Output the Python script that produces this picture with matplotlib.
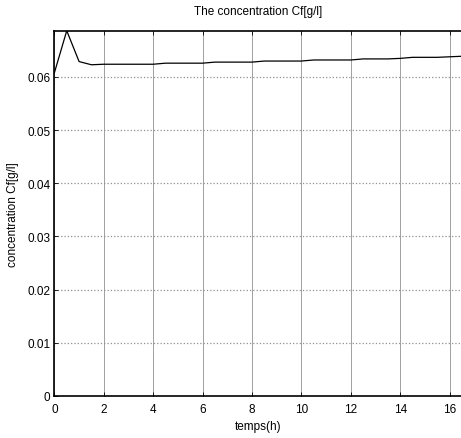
import matplotlib
matplotlib.use('Agg')
import matplotlib.pyplot as plt

plt.rcParams['font.family'] = ['Liberation Sans', 'DejaVu Sans']
plt.rcParams['font.size'] = 8.5

# temps (h) et concentration Cf (g/l)
temps = [0, 0.5, 1, 1.5, 2, 2.5, 3, 3.5, 4, 4.5, 5, 5.5, 6, 6.5, 7, 7.5, 8,
         8.5, 9, 9.5, 10, 10.5, 11, 11.5, 12, 12.5, 13, 13.5, 14, 14.5, 15,
         15.5, 16, 16.5]
cf = [0.0608, 0.0687, 0.0629, 0.0623, 0.0624, 0.0624, 0.0624, 0.0624, 0.0624,
      0.0626, 0.0626, 0.0626, 0.0626, 0.0628, 0.0628, 0.0628, 0.0628, 0.0630,
      0.0630, 0.0630, 0.0630, 0.0632, 0.0632, 0.0632, 0.0632, 0.0634, 0.0634,
      0.0634, 0.0635, 0.0637, 0.0637, 0.0637, 0.0638, 0.0639]

xticks = [0, 2, 4, 6, 8, 10, 12, 14, 16]
yticks = [0, 0.01, 0.02, 0.03, 0.04, 0.05, 0.06]
ytick_labels = ['0', '0.01', '0.02', '0.03', '0.04', '0.05', '0.06']

fig = plt.figure(figsize=(4.61, 4.39), dpi=100)
ax = fig.add_axes([0.118, 0.0957, 0.884, 0.832])

ax.plot(temps, cf, color='black', linewidth=0.9)

ax.set_xlim(0, 16.5)
ax.set_ylim(0, max(cf))
ax.set_xticks(xticks)
ax.set_yticks(yticks)
ax.set_yticklabels(ytick_labels)

# grille façon matlab
ax.xaxis.grid(True, color='#a0a0a0', linestyle='-', linewidth=0.7)
ax.yaxis.grid(True, color='#909090', linestyle=':', linewidth=0.9)
ax.set_axisbelow(True)

ax.tick_params(direction='in', length=3, width=0.6, top=True, right=False,
               labelsize=8.5)
ax.tick_params(axis='x', pad=5)
ax.tick_params(axis='y', pad=3)
for side in ['left', 'bottom', 'top']:
    ax.spines[side].set_linewidth(1.2)
ax.spines['right'].set_visible(False)

ax.set_title('The concentration Cf[g/l]', fontsize=8.5, pad=12)
ax.set_xlabel('temps(h)', fontsize=8.5, labelpad=4)
ax.set_ylabel('concentration Cf[g/l]', fontsize=8.5, labelpad=6)

fig.savefig('out.png', dpi=100)
